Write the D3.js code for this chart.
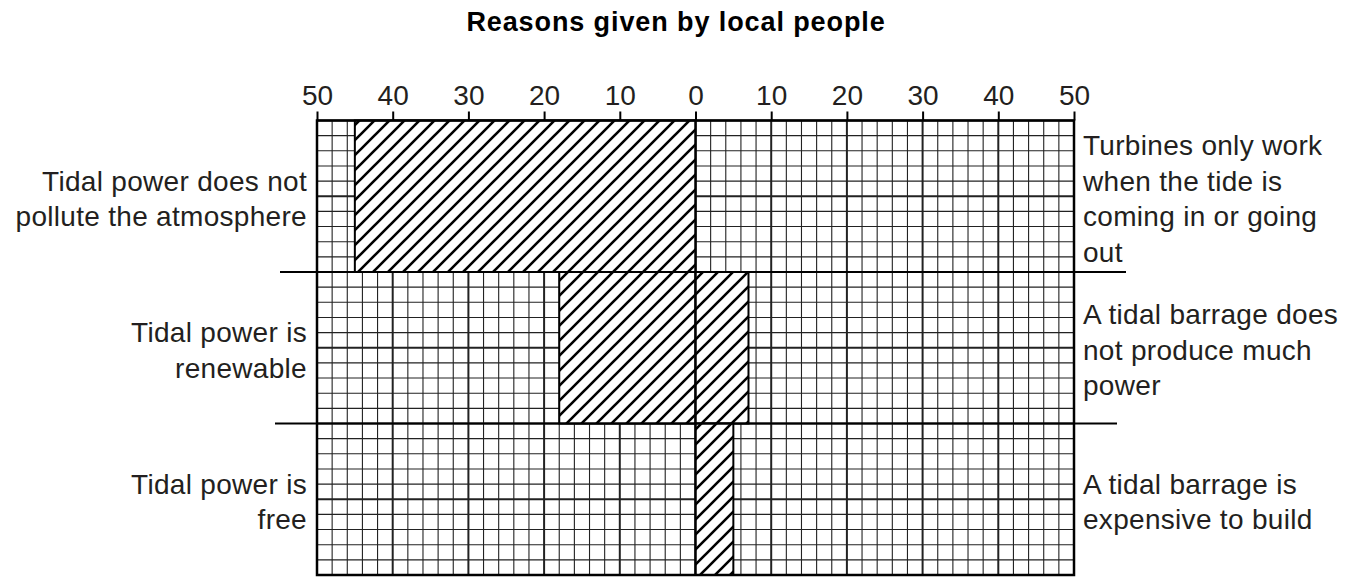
<!DOCTYPE html>
<html>
<head>
<meta charset="utf-8">
<script src="https://cdn.jsdelivr.net/npm/d3@7"></script>
<style>
  body { margin: 0; background: #fff; }
  text { font-family: "Liberation Sans", Arial, Helvetica, sans-serif; fill: #231f20; }
</style>
</head>
<body>
<svg width="1363" height="577"></svg>
<script>
// data
const rows = ["pollution", "renewable", "free"];
const forLabels = [
  ["Tidal power does not", "pollute the atmosphere"],
  ["Tidal power is", "renewable"],
  ["Tidal power is", "free"]
];
const againstLabels = [
  ["Turbines only work", "when the tide is", "coming in or going", "out"],
  ["A tidal barrage does", "not produce much", "power"],
  ["A tidal barrage is", "expensive to build"]
];
const forValues = [45, 18, 0];
const againstValues = [0, 7, 5];
const tickValues = [-50, -40, -30, -20, -10, 0, 10, 20, 30, 40, 50];
const title = "Reasons given by local people";

const svg = d3.select("svg");

const x = d3.scaleLinear().domain([-50, 50]).range([317, 1074]);
const y = d3.scaleBand().domain(rows).range([120.5, 575]).padding(0);
// cells down the chart, 10 to a row
const cells = d3.scaleLinear().domain([0, 30]).range([120.5, 575]);

const defs = svg.append("defs");
const hatch = defs.append("pattern")
    .attr("id", "hatch")
    .attr("patternUnits", "userSpaceOnUse")
    .attr("width", 15)
    .attr("height", 15);
hatch.append("rect")
    .attr("width", 15).attr("height", 15)
    .attr("fill", "#fff");
hatch.append("path")
    .attr("d", "M-2,17 L17,-2 M-4,4 L4,-4 M11,19 L19,11")
    .attr("stroke", "#000")
    .attr("stroke-width", 2.6);

svg.append("text")
    .attr("x", 676)
    .attr("y", 31)
    .attr("text-anchor", "middle")
    .style("font-size", "27px")
    .style("font-weight", "bold")
    .style("letter-spacing", "0.9px")
    .style("fill", "#000")
    .text(title);

const grid = svg.append("g");

// minor vertical lines every 2
grid.selectAll(".vminor")
    .data(d3.range(-50, 51, 2))
  .enter().append("line")
    .attr("x1", d => x(d)).attr("x2", d => x(d))
    .attr("y1", y.range()[0]).attr("y2", y.range()[1])
    .attr("stroke", "#222")
    .attr("stroke-width", d => d % 10 === 0 ? 2 : 1.1);

// horizontal cells
grid.selectAll(".hminor")
    .data(d3.range(0, 31))
  .enter().append("line")
    .attr("x1", x(-50)).attr("x2", x(50))
    .attr("y1", d => cells(d)).attr("y2", d => cells(d))
    .attr("stroke", "#222")
    .attr("stroke-width", d => d % 5 === 0 ? 2 : 1.1);

// bars
const bars = svg.append("g");
bars.selectAll(".for")
    .data(rows.map((r, i) => ({row: r, v: forValues[i]})).filter(d => d.v > 0))
  .enter().append("rect")
    .attr("x", d => x(-d.v))
    .attr("y", d => y(d.row))
    .attr("width", d => x(0) - x(-d.v))
    .attr("height", y.bandwidth())
    .attr("fill", "url(#hatch)")
    .attr("stroke", "#000")
    .attr("stroke-width", 2);

bars.selectAll(".against")
    .data(rows.map((r, i) => ({row: r, v: againstValues[i]})).filter(d => d.v > 0))
  .enter().append("rect")
    .attr("x", x(0))
    .attr("y", d => y(d.row))
    .attr("width", d => x(d.v) - x(0))
    .attr("height", y.bandwidth())
    .attr("fill", "url(#hatch)")
    .attr("stroke", "#000")
    .attr("stroke-width", 2);

// centre line
svg.append("line")
    .attr("x1", x(0)).attr("x2", x(0))
    .attr("y1", y.range()[0]).attr("y2", y.range()[1])
    .attr("stroke", "#000").attr("stroke-width", 2);

// row separators that run past the grid
svg.selectAll(".sep")
    .data(rows.slice(1))
  .enter().append("line")
    .attr("x1", (d, i) => i === 0 ? 280 : 275)
    .attr("x2", (d, i) => i === 0 ? 1126 : 1117)
    .attr("y1", d => y(d)).attr("y2", d => y(d))
    .attr("stroke", "#000")
    .attr("stroke-width", 1.8);

// outer frame
svg.append("rect")
    .attr("x", x(-50)).attr("y", y.range()[0])
    .attr("width", x(50) - x(-50))
    .attr("height", y.range()[1] - y.range()[0])
    .attr("fill", "none")
    .attr("stroke", "#000")
    .attr("stroke-width", 2.5);

// top axis
const axis = d3.axisTop(x)
    .tickValues(tickValues)
    .tickFormat(d => Math.abs(d))
    .tickSize(9)
    .tickPadding(7);

const ax = svg.append("g")
    .attr("transform", "translate(0," + y.range()[0] + ")")
    .call(axis);
ax.select(".domain").remove();
ax.selectAll(".tick line").attr("stroke", "#000").attr("stroke-width", 2);
ax.selectAll(".tick text")
    .style("font-size", "28px")
    .style("font-family", "'Liberation Sans', Arial, sans-serif")
    .attr("fill", "#231f20");

// side labels
function addLabels(lines, anchor, xPos) {
  svg.append("g").selectAll("text")
      .data(rows.map((r, i) => ({row: r, lines: lines[i]})))
    .enter().append("text")
      .attr("text-anchor", anchor)
      .style("font-size", "28px")
      .style("letter-spacing", "0.3px")
      .each(function(d) {
        const t = d3.select(this);
        const mid = y(d.row) + y.bandwidth() / 2 + 12;
        const lh = 35.5;
        d.lines.forEach((s, k) => {
          t.append("tspan")
            .attr("x", xPos)
            .attr("y", mid + (k - (d.lines.length - 1) / 2) * lh)
            .text(s);
        });
      });
}
addLabels(forLabels, "end", 307);
addLabels(againstLabels, "start", 1083);
</script>
</body>
</html>
